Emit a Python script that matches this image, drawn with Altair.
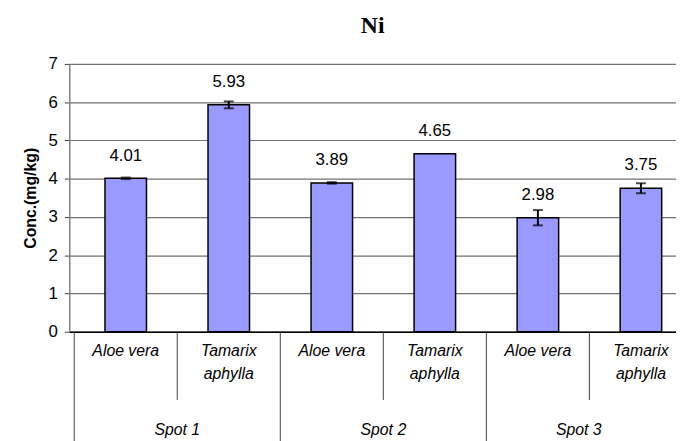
import altair as alt
import pandas as pd

spots = ["Spot 1", "Spot 2", "Spot 3"]
species = ["Aloe vera", "Tamarix aphylla"]
species_labels = ["Aloe vera", "Tamarix\naphylla"]
values = [4.01, 5.93, 3.89, 4.65, 2.98, 3.75]
errors = [0.02, 0.09, 0.02, 0.0, 0.2, 0.13]
y_ticks = [0, 1, 2, 3, 4, 5, 6, 7]

FONT = "Liberation Sans"
W, H = 614, 271
XMAX = W / 106

rows = []
for i, (v, e) in enumerate(zip(values, errors)):
    rows.append(dict(pos=i + 0.5, spot=spots[i // 2], species=species[i % 2],
                     label=species_labels[i % 2], value=v, lo=v - e, hi=v + e,
                     err=e, txt=f"{v:.2f}"))
df = pd.DataFrame(rows)

n = len(values)
species_bounds = pd.DataFrame({"b": [i for i in range(1, n, 2)]})
spot_bounds = pd.DataFrame({"b": list(range(0, n + 1, 2))})
spot_centers = pd.DataFrame({"c": [(2 * k + min(2 * k + 2, XMAX)) / 2 for k in range(len(spots))],
                             "spot": spots})

xscale = alt.Scale(domain=[0, XMAX], nice=False, zero=False)
yscale = alt.Scale(domain=[0, 7], nice=False)

x_axis = alt.Axis(labels=False, ticks=False, grid=False, title=None,
                  domainColor="#000000", domainWidth=1.5)
y_axis = alt.Axis(values=y_ticks, tickCount=8, labelOverlap=False, grid=True,
                  gridColor="#707070", gridWidth=1.2,
                  domainColor="#808080", domainWidth=1.5, tickColor="#404040",
                  tickSize=5, labelPadding=7, labelFont=FONT, labelFontSize=17,
                  labelColor="#000000", title="Conc.(mg/kg)", titleFont=FONT,
                  titleFontSize=16, titleFontWeight="bold", titleColor="#000000",
                  titlePadding=10)

def xq(field):
    return alt.X(field, scale=xscale, axis=x_axis)

def yq(field):
    return alt.Y(field, scale=yscale, axis=y_axis)

base = alt.Chart(df)

bars = base.mark_bar(size=42, color="#9999FF", stroke="#000000", strokeWidth=1.5).encode(
    x=xq("pos:Q"), y=yq("value:Q"))

err_df = base.transform_filter("datum.err > 0")
stems = err_df.mark_rule(color="#000000", strokeWidth=2).encode(
    x=xq("pos:Q"), y=yq("lo:Q"), y2="hi:Q")
cap_lo = err_df.mark_tick(orient="horizontal", size=10, thickness=2, color="#000000").encode(
    x=xq("pos:Q"), y=yq("lo:Q"))
cap_hi = err_df.mark_tick(orient="horizontal", size=10, thickness=2, color="#000000").encode(
    x=xq("pos:Q"), y=yq("hi:Q"))

vals = base.mark_text(font=FONT, fontSize=17, dy=-23, baseline="middle", color="#000000").encode(
    x=xq("pos:Q"), y=yq("value:Q"), text="txt:N")

sp_labels = base.mark_text(font=FONT, fontSize=16, fontStyle="italic", baseline="top",
                           lineBreak="\n", lineHeight=23, color="#000000").encode(
    x=xq("pos:Q"), y=alt.value(H + 12), text="label:N")

sp_sep = alt.Chart(species_bounds).mark_rule(color="#404040", strokeWidth=1, clip=False).encode(
    x=xq("b:Q"), y=alt.value(H), y2=alt.value(H + 69))
spot_sep = alt.Chart(spot_bounds).mark_rule(color="#404040", strokeWidth=1, clip=False).encode(
    x=xq("b:Q"), y=alt.value(H), y2=alt.value(H + 120))

spot_lbl = alt.Chart(spot_centers).mark_text(font=FONT, fontSize=16, fontStyle="italic",
                                             baseline="middle", color="#000000").encode(
    x=xq("c:Q"), y=alt.value(H + 100), text="spot:N")

chart = alt.layer(bars, stems, cap_lo, cap_hi, vals, sp_labels, sp_sep, spot_sep, spot_lbl).properties(
    width=W, height=H,
    title=alt.TitleParams("Ni", font="Liberation Serif", fontSize=24, fontWeight="bold",
                          color="#000000", offset=17, anchor="middle"),
    autosize=alt.AutoSizeParams(type="none"),
    padding={"left": 62, "top": 54, "right": 0, "bottom": 108},
    background="#ffffff",
).configure_view(stroke=None)

chart.save("out.html", embed_options={"renderer": "svg", "actions": False})
